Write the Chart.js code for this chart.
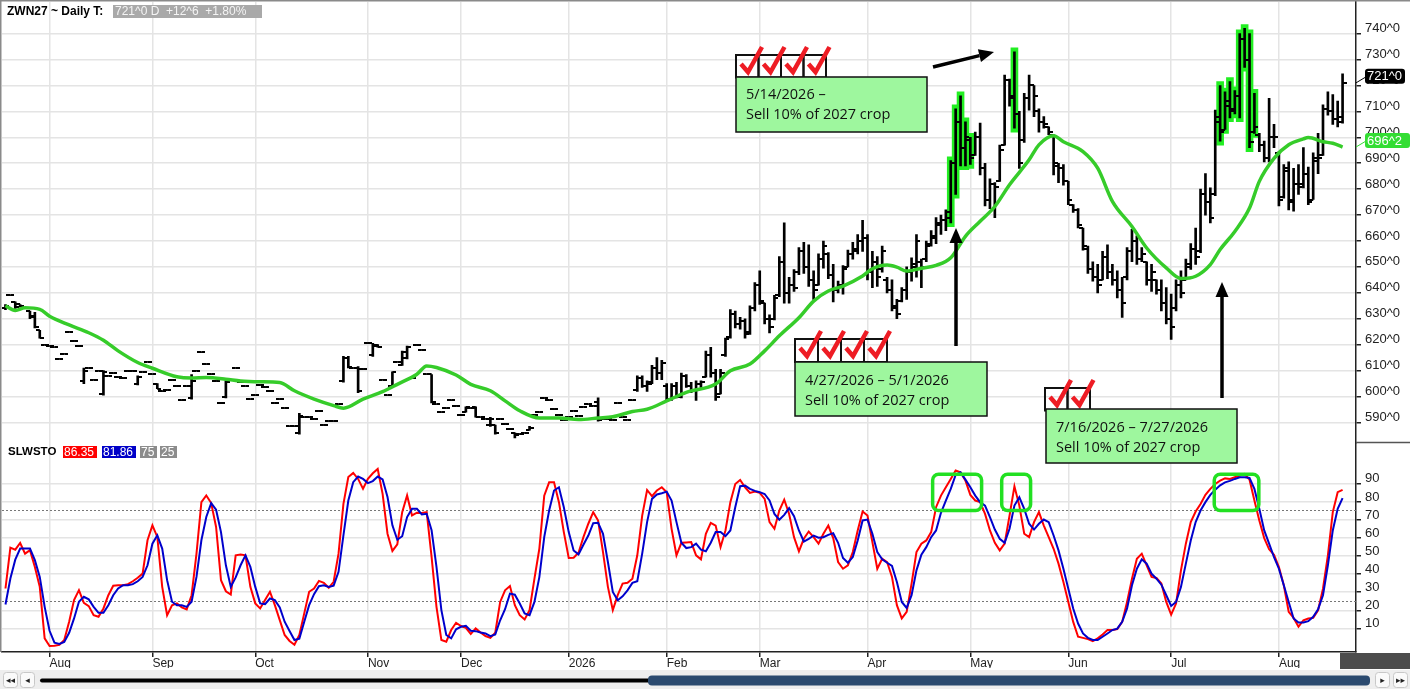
<!DOCTYPE html>
<html>
<head>
<meta charset="utf-8">
<script src="https://cdn.jsdelivr.net/npm/chart.js@4.4.1/dist/chart.umd.min.js"></script>
<style>
html,body{margin:0;padding:0;background:#fff;overflow:hidden}
#wrap{position:relative;width:1410px;height:689px}
</style>
</head>
<body>
<div id="wrap"><canvas id="c" width="1410" height="689"></canvas></div>
<script>
// ZWN27 daily bars, Jul 21 2025 .. Aug 20 2026 (one entry per trading day)
const open = [
634,639,636.5,635.5,634,633,631,625.5,620,619.5,
619,614.5,616.5,625,621.5,619.5,606,611,606.5,610,
601,608,609,607.5,607,610,610,605,609.5,613.5,
608.5,605,602,602.5,606.5,604,598.5,604,599.5,610,
617,612.5,608.5,606,597.5,600,606.5,611,605.5,604,
599,600.5,604.5,603.5,602,597.5,599,595.5,588.5,588.5,
586,592,592,591.5,594.5,589,590.5,590.5,597,606,
615,611,611,610.5,620.5,616,620,606.5,600.5,604,
613.5,612,615,607,620,618,608.5,608.5,597,594,
595.5,598.5,596.5,593,594,595.5,596,592,591.5,589,
589,591.5,589.5,587.5,586,585.5,586,587,593,594,
599.5,598.5,595,593,591,592,594.5,592.5,596,597,
596.5,598,591.5,591.5,591,597.5,592,591,598.5,602.5,
607,604,605,611,609,604,599,604,600,608,
604,602,605,607.5,616,609,601,616,623,632,
628,629,625,634,643,636,630,630,639,652,
640,643,648,656,650,645,643,653,655,647,
641,643,650,655,656,660,661,648,652,649,
645,641,635,637,641,648,650,652,653,659,
661,666,668,669,690,706,696,699,693,700,
688,676,682,683,697,722,716,709,699,715,
720,710,706,704,701,689,688,683,674,672,
665,657,649,646,645,654,648,645,641,646,
656,660,653,652,645,645,641,636,630,634,
643,645,650,657,656,678,675,678,706,703,
712,711,716,738,730,702,701,697,692,700,
694,677,687,676,682,682,686,676,691,693,
711,710,707,706];
const high = [
635.5,639,636.5,635.5,634,633,632.5,625.5,620,619.5,
619,614.5,616.5,625,621.5,619.5,611,611,606.5,610,
610,608,609,607.5,607,610,610,608,609.5,613.5,
608.5,605,602,602.5,606.5,604,598.5,604,608.5,610,
617,612.5,608.5,606,597.5,606,606.5,611,605.5,604,
599,600.5,604.5,603.5,602,597.5,599,595.5,588.5,588.5,
593.5,592,592,591.5,594.5,589,590.5,590.5,597,615.5,
615.5,611,611.5,610.5,620.5,620.5,620,606.5,600.5,609.5,
613.5,617.5,619.5,607,620,618,608.5,608.5,597,594,
595.5,598.5,596.5,593,596,595.5,596,592,591.5,592,
589,591.5,589.5,587.5,586,585.5,586,588.5,593,594,
599.5,598.5,595,593,591,592,594.5,592.5,596,597,
596.5,599.5,591.5,591.5,591,597.5,592,591,598.5,608,
608,606,612,615,614,605,605,605.5,609,608.5,
605.5,606,606,617.5,619,610.5,610.5,622.5,633.5,633,
630.5,630,635,644,648.5,636,631.5,639,654,667,
646,649,657.5,659.5,658.5,648.5,655,660,655.5,651,
644.5,650.5,656.5,659.5,662.5,668,662.5,656,654,658,
646,645,637.5,642,650,653.5,662.5,653,660,664,
669,670,672,691,711,716,706,700,702,705.5,
690,684,682.5,697,724,722.5,733,710,717,724,
720,711,708,704,701,690,689.5,683,674,672.5,
665,658,652,651,656,658.5,651,648.5,646,657.5,
664.5,662,657.5,652,651,645,645,642,639.5,645,
648.5,653,659,665,680,686,680.5,710.5,720,717.5,
721.5,718,740,742,740,717,701.5,698.5,715,705,
694.5,689.5,690.5,688,689.5,696,688.5,694,701.5,712.5,
717.5,716.5,714,724.5];
const low = [
633.5,639,634,634.5,634,630,626.5,622.5,620,619.5,
619,614.5,616.5,625,621.5,619.5,605,611,606.5,610,
600.5,608,609,607.5,607,610,610,604.5,609.5,613.5,
608.5,603,602,602.5,606.5,604,598.5,604,599,610,
617,612.5,608.5,606,597.5,599.5,606.5,611,605.5,604,
599,600.5,604.5,603.5,602,597.5,599,595.5,588.5,588.5,
585.5,592,592,591.5,594.5,589,590.5,590.5,597,605.5,
611,611,601.5,610.5,620.5,615.5,619,606.5,600.5,604,
613.5,612,614.5,607,620,618,608.5,597.5,597,594,
595.5,598.5,596.5,593,594,595.5,592,592,591.5,588.5,
585.5,591.5,589.5,587.5,584,585.5,586,587,593,594,
599.5,598.5,595,593,591,592,594.5,592.5,596,597,
596.5,590.5,591.5,591.5,591,597.5,592,591,598.5,602,
603.5,602,605,606.5,606.5,598.5,598.5,599.5,599.5,603.5,
601.5,598.5,603.5,607.5,607.5,598.5,601,615.5,622.5,626.5,
626,622.5,624,633,635.5,628,624.5,629.5,638.5,636,
636,640.5,647,647.5,642.5,637.5,643,649.5,645.5,636.5,
640,639.5,650,653,655,656,645,642,642.5,648,
640,633,630,636.5,637.5,644.5,646,642,652,658,
659,662.5,664,667,678,689,689,689.5,693,685.5,
673.5,672.5,669,683,697,712,703.5,688,698,710.5,
708,702,703.5,701,685.5,682.5,681.5,674,671,665,
656.5,647.5,644.5,640,645,645.5,643,638,630.5,645,
652,651,652,643,640.5,639.5,633,628,622,633,
638,645,649,651,655.5,670,667,677.5,698.5,703,
707.5,709,707.5,727,696,701.5,694.5,690.5,690.5,696,
673.5,676.5,672,671.5,678,680.5,674,676,686,693,
708.5,705,704,705.5];
const close = [
635,639,634.5,635,634,630.5,627,622.5,620,619.5,
619,614.5,616.5,625,621.5,619.5,610,611,606.5,610,
609.5,608,609,607.5,607,610,610,607.5,609.5,613.5,
608.5,603,602,602.5,606.5,604,598.5,604,606,610,
617,612.5,608.5,606,597.5,605.5,606.5,611,605.5,604,
599,600.5,604.5,603.5,602,597.5,599,595.5,588.5,588.5,
592.5,592,592,591.5,594.5,589,590.5,590.5,597,615,
611.5,611,602,610.5,620.5,619.5,619,606.5,600.5,609.5,
613.5,617,619,607,620,618,608.5,598,597,594,
595.5,598.5,596.5,593,596,595.5,592,592,591.5,591.5,
586,591.5,589.5,587.5,585,585.5,586,588,593,594,
599.5,598.5,595,593,591,592,594.5,592.5,596,597,
596.5,591,591.5,591.5,591,597.5,592,591,598.5,607,
604,605.5,611,609,613,599,604,600,608,604,
602,605,605.5,616,609,600,609,622,632,628,
629,624,634,643,637,630,627,638,652,640,
643,642,656,650,645,641,653,658,647,641,
643,649,655,657,660,661,648,652,646,656,
641,634,632,641,648,651,660,650,658,662,
667,668,671,690,706,696,700,692,700,688,
676,682,681,695,722,715,709,690,715,720,
716,706,705,702,690,688,683,676,672,666,
658,649,646,643,654,648,645,641,636,656,
660,653,655,645,648,641,636,630,627,643,
640,651,657,654,678,675,669,708,702,714,
710,716,738,730,698,704,697,692,700,700,
676,688,675,682,681,686,675,692,692,711,
710,707,708,721];

// moving average, read at these bar indexes
const maIdx = [0,2,4,7,9,13,17,20,23,27,30,35,38,41,45,48,52,56,59,63,67,69,73,77,80,84,86,88,92,95,
  99,102,105,109,113,117,121,124,128,131,135,139,145,148,152,155,158,162,165,168,171,175,177,180,182,
  184,187,190,193,196,199,202,205,209,211,214,216,220,223,226,230,233,237,240,243,246,248,251,254,256,
  259,262,265,266,269,271,273];
const maVal = [635,633.2,634.2,633.6,631,627.6,624.6,621.7,617.6,613.1,610.9,607.6,607.1,607.3,606.7,
  606,605.7,605.4,602.2,599,596.5,595.5,599,601.9,604.7,608.6,611.8,611.2,608.3,604.7,602.2,598.3,594.5,
  591.7,591.7,591.1,591.7,592.2,594.2,595.1,598.3,601.6,604.8,609.9,612.5,617.6,623.4,630.4,636.8,640.7,
  642.6,646.5,649.3,650.7,649.9,648.4,649.5,650.6,653.5,661.8,667.6,673.3,681.7,691.3,697.1,700.6,698.3,
  694.5,688.1,675.3,665.6,657.3,649.6,645.5,646.4,650.9,656.7,663.7,672.7,683,691.9,697.1,699.4,699.9,
  698.3,697.7,696.25];

// slow stochastic (red = %K, blue = %D)
const stochK = [
32,54.5,53.4,57.1,51.2,53.1,43.9,32.9,4.5,0.3,
0.5,0.9,3.6,13.7,25.6,31.1,24.1,22.3,17.3,16.4,
21,28.3,33.5,33.8,33.8,34.4,36,37.9,40.2,58.6,
66.8,60.4,32.9,17.3,22.8,23.8,21.6,20.5,28.3,51.2,
79.6,83.3,79.1,65.9,36.6,30.5,28.7,50.3,50.7,50.3,
32.9,23.8,21,25.6,30.2,22.8,14.6,6.4,3.1,1,
6.4,18.3,30.2,32,36.2,35.1,32.4,35.7,51.2,78.7,
93.4,95.7,92.4,87,92.4,95.5,97.9,84.2,62.2,52.7,
56.4,74.1,83.3,72.3,73.8,73.6,74.1,49.4,21.9,3.6,
2.7,9.1,13.1,11.3,10.3,6.9,10,7.8,5.8,4.8,
7.6,24.6,31,33.4,22.8,17.3,14.9,20,37.4,53.9,
83.2,90.5,90.5,79.6,63.1,48.8,49,51.7,60.3,67.7,
74.1,69.5,52.1,32.9,20.1,28.3,34.7,35.2,37.4,50.3,
72.2,86.3,82.9,86,87.8,85.1,64.9,50.3,57.2,57.4,
57.6,50.3,48.1,62.2,68.2,66.7,54.8,64,79.6,89.6,
91.8,87.8,84.7,85.4,84.7,81.4,68.6,64.9,75,81,
73.1,60.3,52.5,59.4,63.4,60.3,56.7,62.2,66.7,59.8,
46.6,42.9,44.8,52.1,64,74.4,72.2,57.6,42.9,48.4,
46.6,38.4,22.8,15.5,19.1,34.7,52.1,56.7,58.5,63.1,
76.8,83.2,87.8,92.4,97,96,91.5,83.6,80.5,79.6,
73.1,64,57.2,53,56.7,72.2,88.3,77.7,62.2,60.3,
68.6,74.1,66.7,60.3,53.9,45.7,35.6,24.6,13.6,5.4,
4.8,4.1,3,4.5,6.7,9.1,9.1,9.6,13.6,24.6,
37.4,48.4,51.2,44.8,38.4,37.8,34.7,24.6,17.6,23.7,
42,56.7,68.6,74.4,78.6,83.6,86.9,89.6,91.5,92.7,
92.4,93.3,94.2,95.1,92,80.5,69.5,59.8,53.6,50.6,
43.8,33.8,19.1,15.8,10.9,14.5,15.5,15.8,20,31.9,
50.3,74.1,85.1,86.35];
const stochD = [
23.2,37.5,47.9,54,54,54,47.6,38.4,21.9,8.7,
2.1,1.4,2.5,7.6,15.5,24.7,27.4,26,21.9,18.6,
18.6,22.8,28.3,32,33.8,33.8,34.4,36,38.4,44.8,
56.7,61.3,54,36.6,24.7,22.8,22.8,21.9,24.7,38.4,
58.6,71.4,79.1,75.4,63.1,44.8,32.9,38.1,44.8,50.3,
43.9,32.9,23.8,23.4,26.5,25.6,21.6,13.7,8.6,3.6,
4.3,13.7,22.8,28.9,33.3,33.8,32.9,33.6,41.2,61.3,
80.5,90.6,93.7,92.4,90.1,91.2,93.7,92.1,82.4,66.8,
58.9,60.8,71.4,75.9,75.9,72.8,73.2,64.1,43.9,20.1,
6.4,4.5,9.5,10.9,11.4,8.7,8.5,7.8,7.2,5.7,
6.7,14.5,20.6,29.2,28.6,23.7,18.2,17.3,24.6,38.3,
60.3,75,86,87.8,76.8,63.1,53,50.8,56.1,61.2,
68,68.2,62.2,46.6,30.1,25.5,27.7,31,35.1,36,
51.2,68.6,81.4,83.8,84.5,85.4,80.5,68.6,57.2,54.3,
54.8,56.7,53.4,52.5,57.2,63.1,63.1,60.9,64,76.8,
88.4,88.7,86.9,85.8,85.1,84.1,80.5,73.1,69.9,72.6,
76.3,71.9,64,57.9,59.4,61.2,60,60.3,61.6,62.5,
57.2,48.8,46.2,49.3,58.5,69.5,70,62.2,52.1,48.1,
46.2,44.4,35.6,24.6,21.3,28.3,42,50.6,54.8,60.3,
64,73.7,80.5,86.9,94.6,96,92,87.8,83.2,79.6,
77.7,71.3,64.5,59.4,57.2,64.9,77.7,82.3,75.9,67.7,
64.5,67.7,70,68.6,61.2,53,42.9,31.9,21,12.7,
7.2,4.8,3.6,3.6,5.4,7.2,9.1,9.9,13.6,21,
33.8,42.9,48.1,45.7,40.2,37.4,34.1,28.3,22.4,24.6,
32.9,45.7,58.5,68.6,75,79.6,83.6,86.5,88.9,90.5,
91.3,92.4,93.3,93.3,92.9,86.9,75.9,64,56.7,49.3,
42.9,33.8,24.6,15.5,13.3,13.3,14,16.4,20.6,28.3,
44.8,64,75.9,81.86];

// axis ticks
const monthIdx = [9,30,51,74,93,115,135,154,176,197,217,238,260];
const monthLbl = ['Aug','Sep','Oct','Nov','Dec','2026','Feb','Mar','Apr','May','Jun','Jul','Aug'];
const priceTicks = [590,600,610,620,630,640,650,660,670,680,690,700,710,720,730,740];
const stochTicks = [10,20,30,40,50,60,70,80,90];
const stochLevels = [75,25];

// selling days (highlighted bars) and stochastic zones
const saleDays = [193,194,195,196,197,206,248,249,250,251,252,253,254,255];
const zones = [[189.3,199.3],[203.4,209.3],[246.8,255.9]];
const lastPrice = 721, lastMA = 696.25;

function tickImg(side) {
  const c = document.createElement('canvas');
  c.width = 8; c.height = 2;
  const g = c.getContext('2d');
  g.fillStyle = '#000';
  if (side === 'L') g.fillRect(0, 0, 4, 2); else g.fillRect(4, 0, 4, 2);
  return c;
}

function checks(c, x, y, n, s) {
  c.lineWidth = 2; c.strokeStyle = '#111';
  for (let k = 0; k < n; k++) c.strokeRect(x + k * s, y, s, s);
  c.strokeStyle = '#ee1c24'; c.lineWidth = 4.5; c.lineJoin = 'miter'; c.lineCap = 'butt';
  for (let k = 0; k < n; k++) {
    const bx = x + k * s;
    c.beginPath();
    c.moveTo(bx + 5, y + 9);
    c.lineTo(bx + 12, y + 17);
    c.lineTo(bx + 26, y - 8);
    c.stroke();
  }
}

function note(c, x, y, w, h, lines, tx, ty) {
  c.fillStyle = '#9ef79e';
  c.fillRect(x, y, w, h);
  c.lineWidth = 1.5; c.strokeStyle = '#111';
  c.strokeRect(x, y, w, h);
  c.fillStyle = '#111';
  c.font = '14.5px "Open Sans"';
  c.textBaseline = 'middle'; c.textAlign = 'left';
  c.fillText(lines[0], tx, ty);
  c.fillText(lines[1], tx, ty + 20);
}

function arrow(c, x1, y1, x2, y2) {
  const a = Math.atan2(y2 - y1, x2 - x1), L = 15, W = 6.5;
  const bx = x2 - L * Math.cos(a), by = y2 - L * Math.sin(a);
  c.strokeStyle = '#000'; c.fillStyle = '#000'; c.lineWidth = 3.5; c.lineCap = 'butt';
  c.beginPath(); c.moveTo(x1, y1); c.lineTo(bx, by); c.stroke();
  c.beginPath();
  c.moveTo(x2, y2);
  c.lineTo(bx - W * Math.sin(a), by + W * Math.cos(a));
  c.lineTo(bx + W * Math.sin(a), by - W * Math.cos(a));
  c.closePath(); c.fill();
}

function tag(c, x, y, w, h, bg, txt) {
  c.fillStyle = bg;
  c.beginPath(); c.roundRect(x, y, w, h, 3); c.fill();
  c.fillStyle = '#fff';
  c.fillText(txt, x + 2, y + h / 2 + 0.5);
}

// drop the label overflow padding so the panes fill the canvas edge to edge
function noPad(s) { s.paddingTop = 0; s.paddingBottom = 0; s.paddingLeft = 0; s.paddingRight = 0; }

const deco = {
  id: 'deco',
  beforeDraw(ch) {
    const c = ch.ctx;
    c.save(); c.fillStyle = '#fff'; c.fillRect(0, 0, ch.width, ch.height); c.restore();
  },
  beforeDatasetsDraw(ch) {
    const c = ch.ctx, a = ch.chartArea, s = ch.scales.y2;
    c.save();
    c.strokeStyle = '#777'; c.lineWidth = 1; c.setLineDash([2, 2]);
    stochLevels.forEach(v => {
      const y = Math.round(s.getPixelForValue(v)) + 0.5;
      c.beginPath(); c.moveTo(a.left, y); c.lineTo(a.right, y); c.stroke();
    });
    c.restore();
  },
  afterDatasetsDraw(ch) {
    const c = ch.ctx, x = ch.scales.x, s = ch.scales.y2;
    c.save();
    c.strokeStyle = '#22e022'; c.lineWidth = 3.5;
    zones.forEach(z => {
      const x1 = x.getPixelForValue(z[0]), x2 = x.getPixelForValue(z[1]);
      const y1 = s.getPixelForValue(95), y2 = s.getPixelForValue(75);
      c.beginPath(); c.roundRect(x1, y1, x2 - x1, y2 - y1, 6); c.stroke();
    });
    c.restore();
  },
  afterDraw(ch) {
    const c = ch.ctx, a = ch.chartArea, yP = ch.scales.y;
    c.save();
    // frame
    c.strokeStyle = '#8a8a8a'; c.lineWidth = 1.5;
    c.beginPath(); c.moveTo(0, 0.75); c.lineTo(1410, 0.75); c.stroke();
    c.beginPath(); c.moveTo(0.75, 0); c.lineTo(0.75, a.bottom); c.stroke();
    c.strokeStyle = '#555';
    c.beginPath(); c.moveTo(a.right, 442.5); c.lineTo(1410, 442.5); c.stroke();

    // header
    c.textBaseline = 'middle'; c.textAlign = 'left';
    c.fillStyle = '#000'; c.font = 'bold 12px "Liberation Sans"';
    c.fillText('ZWN27 ~ Daily T:', 7, 11.5);
    c.fillStyle = '#a9a9a9'; c.fillRect(113, 5, 149, 13);
    c.fillStyle = '#f4f4f4'; c.font = '12px "Liberation Sans"';
    c.fillText('721^0 D  +12^6  +1.80%', 115, 12);

    c.fillStyle = '#000'; c.font = 'bold 11.5px "Liberation Sans"';
    c.fillText('SLWSTO', 8, 452);
    c.font = '12px "Liberation Sans"';
    [[63, 34, '#ff0000', '86.35'], [102, 34, '#0000c8', '81.86'], [140, 17, '#8c8c8c', '75'], [160, 17, '#8c8c8c', '25']]
      .forEach(b => { c.fillStyle = b[2]; c.fillRect(b[0], 446, b[1], 12); c.fillStyle = '#fff'; c.fillText(b[3], b[0] + 1, 452.5); });

    // callouts
    checks(c, 736, 55, 4, 22.5);
    note(c, 736, 77, 191, 55, ['5/14/2026 \u2013', 'Sell 10% of 2027 crop'], 746, 95);
    checks(c, 795, 339, 4, 23);
    note(c, 795, 362, 192, 54, ['4/27/2026 \u2013 5/1/2026', 'Sell 10% of 2027 crop'], 805, 381);
    checks(c, 1045, 388, 2, 22.5);
    note(c, 1046, 409, 191, 54, ['7/16/2026 \u2013 7/27/2026', 'Sell 10% of 2027 crop'], 1056, 428);
    arrow(c, 933, 67, 994, 52);
    arrow(c, 956, 346, 956, 228);
    arrow(c, 1222, 398, 1222, 282);

    // last value tags on the price axis
    c.font = '13px "Liberation Sans"'; c.textBaseline = 'middle';
    const yl = yP.getPixelForValue(lastPrice), ym = yP.getPixelForValue(lastMA);
    c.lineWidth = 1;
    c.strokeStyle = '#000';
    c.beginPath(); c.moveTo(a.right, yl); c.lineTo(a.right + 10, yl - 6); c.stroke();
    tag(c, a.right + 9, yl - 14, 40, 15, '#000', '721^0');
    c.strokeStyle = '#33dd33';
    c.beginPath(); c.moveTo(a.right, ym); c.lineTo(a.right + 10, ym - 6); c.stroke();
    tag(c, a.right + 9, ym - 14, 45, 15, '#33dd33', '696^2');

    // bottom right block and scrollbar
    c.fillStyle = '#4d4d4d'; c.fillRect(1340, a.bottom + 1, 70, 16);
    c.fillStyle = '#eeeeee'; c.fillRect(0, 670, 1410, 19);
    c.font = '9px "DejaVu Sans"'; c.textAlign = 'center';
    [[3, '\u25C2\u25C2'], [20, '\u25C2'], [1375, '\u25B8'], [1393, '\u25B8\u25B8']].forEach(b => {
      c.fillStyle = '#fafafa'; c.strokeStyle = '#c8c8c8'; c.lineWidth = 1;
      c.beginPath(); c.roundRect(b[0] + 0.5, 672.5, 14, 15, 3); c.fill(); c.stroke();
      c.fillStyle = '#222'; c.fillText(b[1], b[0] + 7.5, 680.5);
    });
    c.strokeStyle = '#000'; c.lineWidth = 4; c.lineCap = 'round';
    c.beginPath(); c.moveTo(42, 680.5); c.lineTo(650, 680.5); c.stroke();
    c.fillStyle = '#2b4a6f';
    c.beginPath(); c.roundRect(648, 675.5, 722, 10, 4); c.fill();
    c.restore();
  }
};

const axisFont = { family: 'Liberation Sans', size: 13 };
const gridColor = '#e4e4e4';

new Chart(document.getElementById('c'), {
  type: 'line',
  data: {
    datasets: [
      { type: 'bar', yAxisID: 'y', order: 9, grouped: false, barThickness: 7,
        backgroundColor: '#22ee22',
        data: saleDays.map(i => ({ x: i, y: [low[i] - 1.5, high[i] + 1.5] })) },
      { type: 'bar', yAxisID: 'y', order: 6, grouped: false, barThickness: 2,
        backgroundColor: '#000',
        data: high.map((h, i) => ({ x: i, y: [low[i], h] })) },
      { type: 'line', yAxisID: 'y', order: 5, showLine: false,
        pointStyle: tickImg('L'), pointRadius: 1, pointHoverRadius: 1,
        data: open.map((v, i) => ({ x: i, y: v })) },
      { type: 'line', yAxisID: 'y', order: 5, showLine: false,
        pointStyle: tickImg('R'), pointRadius: 1, pointHoverRadius: 1,
        data: close.map((v, i) => ({ x: i, y: v })) },
      { type: 'line', yAxisID: 'y', order: 3, borderColor: '#36cc2a', borderWidth: 3.5,
        pointRadius: 0, cubicInterpolationMode: 'monotone',
        data: maIdx.map((x, k) => ({ x: x, y: maVal[k] })) },
      { type: 'line', yAxisID: 'y2', order: 2, borderColor: '#ff0000', borderWidth: 2,
        pointRadius: 0, tension: 0,
        data: stochK.map((v, i) => ({ x: i, y: v })) },
      { type: 'line', yAxisID: 'y2', order: 1, borderColor: '#0000cc', borderWidth: 2,
        pointRadius: 0, tension: 0,
        data: stochD.map((v, i) => ({ x: i, y: v })) }
    ]
  },
  options: {
    responsive: false,
    animation: false,
    events: [],
    layout: { padding: { left: 0, top: 0, right: 0, bottom: 21 } },
    plugins: { legend: { display: false }, tooltip: { enabled: false } },
    scales: {
      x: {
        type: 'linear', min: -0.71, max: 275.74, offset: false,
        grid: { color: gridColor, lineWidth: 1.5, tickLength: 5, tickColor: '#222', offset: false },
        border: { color: '#222', width: 1.5 },
        ticks: { align: 'start', padding: -1, autoSkip: false, maxRotation: 0, color: '#222',
                 font: { family: 'Liberation Sans', size: 12 },
                 callback: (v, i) => monthLbl[i] },
        afterBuildTicks: s => { s.ticks = monthIdx.map(v => ({ value: v })); },
        afterFit: s => { s.height = 16; noPad(s); }
      },
      y: {
        type: 'linear', position: 'right', stack: 'panes', stackWeight: 442,
        min: 582.2, max: 752.2,
        grid: { color: gridColor, lineWidth: 1.5, tickLength: 5, tickColor: '#222' },
        border: { color: '#222', width: 1.5 },
        ticks: { padding: 4, labelOffset: -5, autoSkip: false, color: '#222', font: axisFont,
                 callback: v => v + '^0' },
        afterBuildTicks: s => { s.ticks = priceTicks.map(v => ({ value: v })); },
        afterFit: s => { s.width = 54; noPad(s); }
      },
      y2: {
        type: 'linear', position: 'right', stack: 'panes', stackWeight: 210,
        min: -3, max: 112.4,
        grid: { color: gridColor, lineWidth: 1.5, tickLength: 5, tickColor: '#222' },
        border: { color: '#222', width: 1.5 },
        ticks: { padding: 4, labelOffset: -4.5, autoSkip: false, color: '#222', font: axisFont },
        afterBuildTicks: s => { s.ticks = stochTicks.map(v => ({ value: v })); },
        afterFit: s => { s.width = 54; noPad(s); }
      }
    }
  },
  plugins: [deco]
});
</script>
</body>
</html>
